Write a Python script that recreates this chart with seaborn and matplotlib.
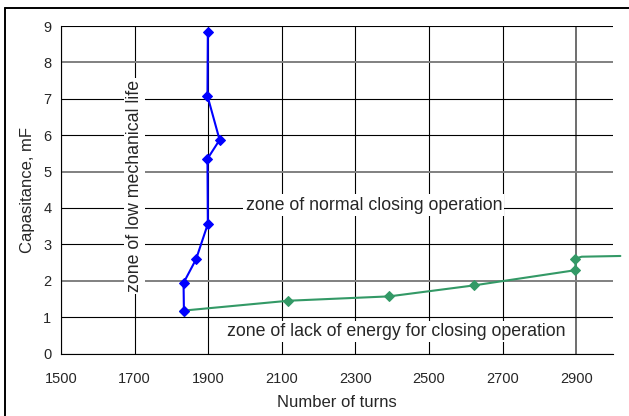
import matplotlib
matplotlib.use("Agg")
import matplotlib.pyplot as plt
import seaborn as sns
import pandas as pd
from matplotlib.lines import Line2D

# blue curve: boundary of low mechanical life
blue_turns = [1899, 1898, 1931, 1898, 1899, 1867, 1833, 1834]
blue_cap = [8.84, 7.08, 5.87, 5.35, 3.56, 2.59, 1.94, 1.18]

# green curve: boundary of lack of energy
green_turns = [1834, 2118, 2392, 2621, 2898, 2898]
green_cap = [1.18, 1.45, 1.57, 1.87, 2.29, 2.61]
# unmarked tail of the green curve past the axis end
tail_turns = [2898, 2915, 3020]
tail_cap = [2.61, 2.66, 2.68]

x_ticks = [1500, 1700, 1900, 2100, 2300, 2500, 2700, 2900]
y_ticks = [0, 1, 2, 3, 4, 5, 6, 7, 8, 9]

blue_df = pd.DataFrame({"turns": blue_turns, "cap": blue_cap})
green_df = pd.DataFrame({"turns": green_turns, "cap": green_cap})

sns.set_style("white")
plt.rcParams["font.family"] = ["Liberation Sans", "DejaVu Sans"]

fig = plt.figure(figsize=(6.29, 4.16), dpi=100)
ax = fig.add_axes([61 / 629, 1 - 353.5 / 416, (613 - 61) / 629, (353.5 - 26) / 416])

BLUE = "#0000FF"
GREEN = "#339966"

ax.plot(tail_turns, tail_cap, color=GREEN, linewidth=1.5, clip_on=False, zorder=3)
sns.lineplot(data=green_df, x="turns", y="cap", sort=False, estimator=None, ax=ax,
             color=GREEN, linewidth=1.5, marker="D", markersize=4.6,
             markeredgecolor=GREEN, clip_on=False, zorder=4)
sns.lineplot(data=blue_df, x="turns", y="cap", sort=False, estimator=None, ax=ax,
             color=BLUE, linewidth=1.5, marker="D", markersize=4.6,
             markeredgecolor=BLUE, clip_on=False, zorder=5)

ax.set_xlim(1500, 3000)
ax.set_ylim(0, 9)
ax.set_xticks(x_ticks)
ax.set_yticks(y_ticks)
ax.grid(True, color="black", linewidth=0.8)
ax.set_axisbelow(True)
# a few grid lines look grey and heavier in the original rendering
for i, gl in enumerate(ax.get_ygridlines()):
    if y_ticks[i] in (2, 5, 8):
        gl.set_color("#808080")
        gl.set_linewidth(1.4)
for i, gl in enumerate(ax.get_xgridlines()):
    if x_ticks[i] == 2900:
        gl.set_color("#555555")
        gl.set_linewidth(1.2)
for s in ["top", "right"]:
    ax.spines[s].set_visible(False)
for s in ["left", "bottom"]:
    ax.spines[s].set_color("black")
    ax.spines[s].set_linewidth(0.8)
ax.tick_params(axis="both", direction="out", length=4, width=0.8, color="black",
               labelsize=10.5, pad=3)
ax.tick_params(axis="x", pad=9)

ax.set_xlabel("Number of turns", fontsize=12, labelpad=7)
ax.set_ylabel("Capasitance, mF", fontsize=12, labelpad=6)

box = dict(facecolor="white", edgecolor="none", pad=1.5)
ax.text(2350, 4.08, "zone of normal closing operation", ha="center", va="center",
        fontsize=12.8, bbox=box, zorder=6)
ax.text(2410, 0.6, "zone of lack of energy for closing operation", ha="center",
        va="center", fontsize=12.8, bbox=box, zorder=6)
ax.text(1699, 4.6, "zone of low mechanical life", ha="center", va="center",
        rotation=90, fontsize=12.8, bbox=box, zorder=6)

# outer chart frame (left and top edges visible)
fig.add_artist(Line2D([5 / 629, 5 / 629], [0, 1 - 8 / 416], transform=fig.transFigure,
                      color="black", linewidth=1.4))
fig.add_artist(Line2D([5 / 629, 1], [1 - 8 / 416, 1 - 8 / 416], transform=fig.transFigure,
                      color="black", linewidth=1.4))

fig.savefig("out.png", dpi=100)
